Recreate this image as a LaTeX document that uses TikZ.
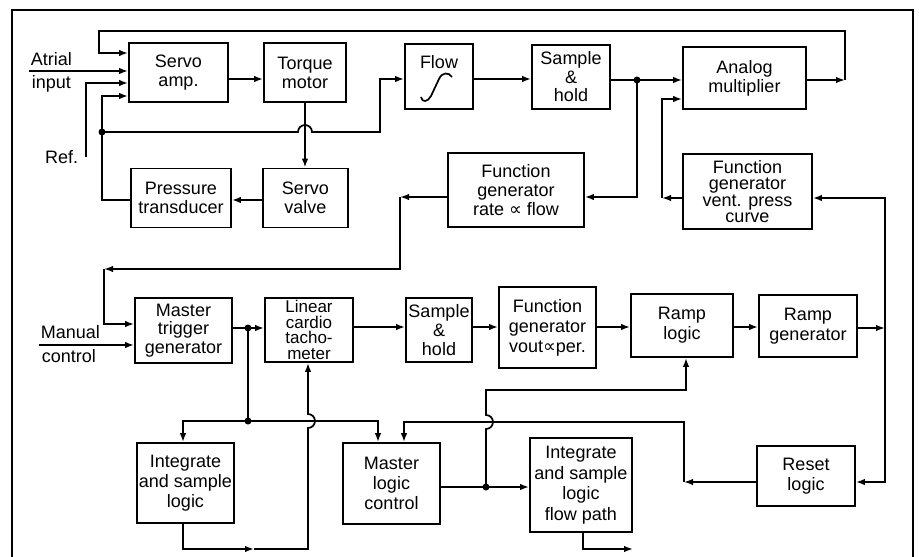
\documentclass[tikz,border=0pt]{standalone}
\usepackage{fontspec}
\setmainfont{Liberation Sans}
\newfontfamily\symf{DejaVu Sans}
\usetikzlibrary{arrows.meta}
\begin{document}
\begin{tikzpicture}[x=1pt,y=-1pt,
  line width=1.7pt,
  blk/.style={draw, line width=1.7pt, align=center, inner sep=0pt, font=\fontsize{18}{19}\selectfont},
  lbl/.style={inner sep=0pt, font=\fontsize{18}{19}\selectfont},
  arr/.style={-{Latex[length=9pt,width=6.5pt]}},
  dot/.style={circle, fill, inner sep=0pt, minimum size=7pt}]
\useasboundingbox (0,0) rectangle (919,557);
\fill[white] (0,0) rectangle (919,557);
\draw[line width=1.4pt] (12,557) -- (12,10) -- (913,10) -- (913,557);

% ---------- boxes ----------
\node[blk, minimum width=99pt, minimum height=59pt] (servo) at (178.5,72.5) {Servo\\amp.};
\node[blk, minimum width=82pt, minimum height=59pt] (torque) at (305,72.5) {Torque\\motor};
\node[blk, minimum width=68pt, minimum height=65pt] (flow) at (439,76.5) {};
\node[lbl, anchor=base] (flowlbl) at (439,68) {Flow};
\draw[line width=1.7pt] (421,97) .. controls (422,103) and (428,102) .. (431,96) -- (439,79) .. controls (442,72) and (449,72) .. (452,77);
\node[blk, minimum width=78pt, minimum height=64pt, font=\fontsize{18}{18.5}\selectfont] (sh1) at (571,77) {Sample\\\&\\hold};
\node[blk, minimum width=123pt, minimum height=62pt] (am) at (744.5,78) {Analog\\multiplier};
\node[blk, minimum width=100pt, minimum height=59pt] (pt) at (181,198) {Pressure\\transducer};
\node[blk, minimum width=85pt, minimum height=59pt] (sv) at (305.5,198) {Servo\\valve};
\node[blk, minimum width=136pt, minimum height=74pt] (fgr) at (516,190) {Function\\generator\\rate {\symf ∝} flow};
\node[blk, minimum width=129pt, minimum height=75pt, font=\fontsize{18}{16.5}\selectfont] (fgv) at (747.5,191.5) {Function\\generator\\vent. press\\curve};
\node[blk, minimum width=97pt, minimum height=65pt, font=\fontsize{18}{18.5}\selectfont] (mtg) at (183.5,330.5) {Master\\trigger\\generator};
\node[blk, minimum width=88pt, minimum height=64pt, font=\fontsize{17}{15.5}\selectfont] (lct) at (309,330) {Linear\\cardio\\tacho-\\meter};
\node[blk, minimum width=66pt, minimum height=64pt] (sh2) at (439,330) {Sample\\\&\\hold};
\node[blk, minimum width=97pt, minimum height=81pt, font=\fontsize{18}{20}\selectfont] (fgo) at (547.5,327.5) {Function\\generator\\vout{\symf ∝}per.};
\node[blk, minimum width=102pt, minimum height=63pt, font=\fontsize{18}{20}\selectfont] (rl) at (682,325.5) {Ramp\\logic};
\node[blk, minimum width=98pt, minimum height=62pt, font=\fontsize{18}{20}\selectfont] (rg) at (808,326) {Ramp\\generator};
\node[blk, minimum width=97pt, minimum height=80pt, font=\fontsize{18}{20}\selectfont] (isl) at (185.5,483) {Integrate\\and sample\\logic};
\node[blk, minimum width=97pt, minimum height=81pt, font=\fontsize{18}{20}\selectfont] (mlc) at (391.5,483.5) {Master\\logic\\control};
\node[blk, minimum width=102pt, minimum height=94pt, font=\fontsize{18}{20.5}\selectfont] (isf) at (581,485) {Integrate\\and sample\\logic\\flow path};
\node[blk, minimum width=98pt, minimum height=60pt, font=\fontsize{18}{20}\selectfont] (reset) at (806,476) {Reset\\logic};

% ---------- outside labels ----------
\node[lbl, anchor=base west] (latr) at (30,65) {Atrial};
\node[lbl, anchor=base west] (linp) at (31,88) {input};
\node[lbl, anchor=base east] (lref) at (79,163) {Ref.};
\node[lbl, anchor=base west] (lman) at (40,338) {Manual};
\node[lbl, anchor=base west] (lctl) at (41,362) {control};

% ---------- coordinates ----------
\coordinate (tr) at (845,80);
\coordinate (tl) at (99,31);
\coordinate (yA) at (0,53);
\coordinate (yC) at (0,83);
\coordinate (yD) at (0,96);
\coordinate (atr) at (29,71);
\coordinate (ref) at (86,157);
\coordinate (pf) at (102,132);
\coordinate (fb) at (380,132);
\coordinate (y79) at (0,79);
\coordinate (y200) at (0,200);
\coordinate (d2) at (637,80);
\coordinate (y197) at (0,197);
\coordinate (c1) at (400,197);
\coordinate (c2) at (104,269);
\coordinate (y324) at (0,324);
\coordinate (man) at (39,345);
\coordinate (y198) at (0,198);
\coordinate (c3) at (662,198);
\coordinate (y99) at (0,99);
\coordinate (j) at (885,328);
\coordinate (y482) at (0,482);
\coordinate (c5) at (684,482);
\coordinate (c6) at (684,422);
\coordinate (x404) at (404,0);
\coordinate (d3) at (248,328);
\coordinate (d4) at (248,421);
\coordinate (x183) at (183,0);
\coordinate (x378) at (378,0);
\coordinate (c7) at (183,549);
\coordinate (c8) at (254,549);
\coordinate (c9) at (308,549);
\coordinate (d5) at (486,487);
\coordinate (c10) at (686,390);
\coordinate (c11) at (583,549);
\coordinate (c12) at (633,549);
\coordinate (y327) at (0,327);

% ---------- upper loop ----------
\draw[arr] (am.east |- tr) -- (tr);
\draw[arr] (tr) |- (tl) |- (servo.west |- yA);
\draw[arr] (atr) -- (servo.west |- atr);
\draw[arr] (ref) |- (servo.west |- yC);
\draw[arr] (pt.west |- y200) -| (pf) |- (servo.west |- yD);
\draw[arr] (servo.east |- y79) -- (torque.west |- y79);
\draw[arr] (torque.south) -- (torque.south |- sv.north);
\draw[arr] (sv.west |- y200) -- (pt.east |- y200);
\draw[arr] (pf) -- (298,132) arc[start angle=180,end angle=0,radius=7pt] -- (fb) |- (flow.west |- y79);
\draw[arr] (flow.east |- y79) -- (sh1.west |- y79);
\draw (sh1.east |- d2) -- (d2);
\draw[arr] (d2) -- (am.west |- d2);
\draw[arr] (d2) |- (fgr.east |- y197);
\draw[arr] (fgr.west |- y197) -- (c1);
\draw[arr] (c1) |- (c2);
\draw[arr] (c2) |- (mtg.west |- y324);
\draw[arr] (fgv.west |- c3) -- (c3);
\draw[arr] (c3) |- (am.west |- y99);

% ---------- lower chain ----------
\draw[arr] (man) -- (mtg.west |- man);
\draw (mtg.east |- d3) -- (d3);
\draw[arr] (d3) -- (lct.west |- d3);
\draw[arr] (lct.east |- y327) -- (sh2.west |- y327);
\draw[arr] (sh2.east |- y327) -- (fgo.west |- y327);
\draw[arr] (fgo.east |- y327) -- (rl.west |- y327);
\draw[arr] (rl.east |- y327) -- (rg.west |- y327);
\draw[arr] (rg.east |- j) -- (j);
\draw[arr] (j) |- (fgv.east |- y198);
\draw[arr] (j) |- (reset.east |- y482);
\draw[arr] (reset.west |- y482) -- (c5);
\draw[arr] (c5) -- (c6) -- (x404 |- c6) -- (x404 |- mlc.north);
\draw (d3) -- (d4);
\draw[arr] (d4) -| (x183 |- isl.north);
\draw[arr] (d4) -| (x378 |- mlc.north);
\draw[arr] (x183 |- isl.south) -- (c7) -- (c8);
\draw[arr] (c8) -- (c9) -- (308,428) arc[start angle=-90,end angle=90,radius=7pt] -- (c9 |- lct.south);
\draw (mlc.east |- d5) -- (d5);
\draw[arr] (d5) -- (isf.west |- d5);
\draw[arr] (d5) -- (486,429) arc[start angle=-90,end angle=90,radius=7pt] -- (486,390) -- (c10) -- (c10 |- rl.south);
\draw[arr] (c11 |- isf.south) -- (c11) -- (c12);

% ---------- junction dots ----------
\node[dot] (dot1) at (pf) {};
\node[dot] (dot2) at (d2) {};
\node[dot] (dot3) at (d3) {};
\node[dot] (dot4) at (d4) {};
\node[dot] (dot5) at (d5) {};
\end{tikzpicture}
\end{document}
